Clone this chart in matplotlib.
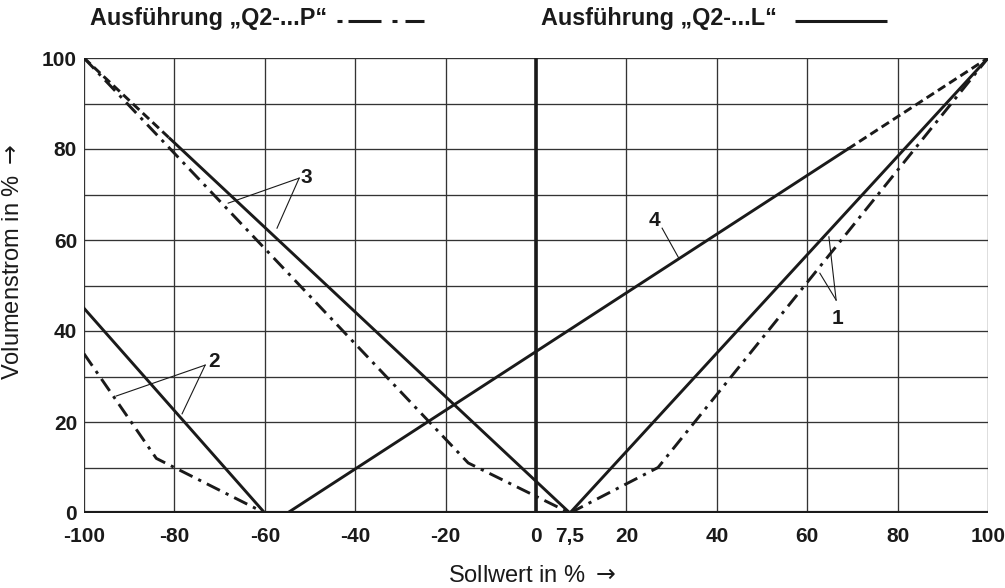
import matplotlib.pyplot as plt
from matplotlib.lines import Line2D

# Kennlinien (Sollwert in %, Volumenstrom in %)
L1_X = [7.5, 100]
L1_Y = [0, 100]
P1_X = [7.5, 27, 100]
P1_Y = [0, 10, 100]
L2_X = [-100, -60]
L2_Y = [45, 0]
P2_X = [-100, -84, -60]
P2_Y = [35, 12, 0]
L3_X = [-100, -81, 7.5]        # erstes Stück gestrichelt
L3_Y = [100, 82.3, 0]
P3_X = [-100, -15, 7.5]
P3_Y = [100, 11, 0]
L4_X = [-55, 69, 100]          # letztes Stück gestrichelt
L4_Y = [0, 80, 100]

XTICKS = [-100, -80, -60, -40, -20, 0, 7.5, 20, 40, 60, 80, 100]
XTICKLABELS = ["-100", "-80", "-60", "-40", "-20", "0", "7,5", "20", "40", "60", "80", "100"]
YTICKS = [0, 20, 40, 60, 80, 100]

# Bezugsziffern: Text, Textanker (links, Grundlinie), Ursprung der Hinweislinien, Zielpunkte
LABELS = [
    ("3", (-52.0, 72.5), (-52.4, 73.6), [(-68.1, 68.1), (-57.3, 62.6)]),
    ("2", (-72.6, 32.0), (-73.2, 32.5), [(-92.9, 25.7), (-78.3, 21.8)]),
    ("4", (24.9, 63.0), (27.9, 62.6), [(31.6, 56.0)]),
    ("1", (65.4, 41.6), (66.4, 46.8), [(64.8, 60.7), (62.8, 52.7)]),
]

SANS = ["Liberation Sans", "DejaVu Sans"]
C = "#1a1a1a"
LW = 2.1
DASHDOT = (5, 2.2, 1.1, 2.2)
DASHED = (3, 1.6)
W, H = 1005, 588

fig = plt.figure(figsize=(W / 100, H / 100), dpi=100)
ax = fig.add_axes([84 / W, 1 - 513 / H, 904 / W, 455 / H])

# Raster
for x in range(-100, 101, 20):
    ax.axvline(x, color="#333333", lw=0.95, zorder=1)
for y in range(0, 101, 10):
    ax.axhline(y, color="#333333", lw=0.95, zorder=1)
ax.axhline(0, color=C, lw=3.0, zorder=3)
ax.axvline(0, color=C, lw=2.6, zorder=3)

# Ausführung L (durchgezogen)
ax.plot(L1_X, L1_Y, color=C, lw=LW, zorder=4)
ax.plot(L2_X, L2_Y, color=C, lw=LW, zorder=4)
ax.plot(L3_X[1:], L3_Y[1:], color=C, lw=LW, zorder=4)
ax.plot(L3_X[:2], L3_Y[:2], color=C, lw=LW, dashes=DASHED, zorder=4)
ax.plot(L4_X[:2], L4_Y[:2], color=C, lw=LW, zorder=4)
ax.plot(L4_X[1:], L4_Y[1:], color=C, lw=LW, dashes=DASHED, zorder=4)

# Ausführung P (strichpunktiert)
for xs, ys in [(P1_X, P1_Y), (P2_X, P2_Y), (P3_X, P3_Y)]:
    ax.plot(xs, ys, color=C, lw=LW, dashes=DASHDOT, zorder=4)

for txt, (tx, ty), (ox, oy), targets in LABELS:
    ax.text(tx, ty, txt, fontsize=15, fontweight="bold", family=SANS,
            ha="left", va="baseline", color=C, zorder=5)
    for px, py in targets:
        ax.plot([ox, px], [oy, py], color=C, lw=0.8, zorder=5)

ax.set_xlim(-100, 100)
ax.set_ylim(0, 100)
for s in ax.spines.values():
    s.set_visible(False)
ax.set_xticks(XTICKS)
ax.set_xticklabels(XTICKLABELS)
ax.set_yticks(YTICKS)
ax.tick_params(axis="x", length=0, pad=10, labelsize=15, colors=C)
ax.tick_params(axis="y", length=0, pad=5, labelsize=15, colors=C)
for lab in ax.get_xticklabels() + ax.get_yticklabels():
    lab.set_fontweight("bold")
    lab.set_family(SANS)

fig.text(532 / W, 1 - 576 / H, "Sollwert in % $\\rightarrow$", fontsize=17, family=SANS,
         ha="center", va="center", color=C)
fig.text(13 / W, 1 - 262 / H, "Volumenstrom in % $\\rightarrow$", fontsize=17, family=SANS,
         rotation=90, ha="center", va="center", color=C)

# Kopfzeile mit Linienmustern
fig.text(90 / W, 1 - 18 / H, "Ausführung „Q2-...P“", fontsize=16.8, fontweight="bold",
         family=SANS, va="center", ha="left", color=C)
fig.text(541 / W, 1 - 18 / H, "Ausführung „Q2-...L“", fontsize=16.8, fontweight="bold",
         family=SANS, va="center", ha="left", color=C)
for x0, x1 in [(337, 342), (348, 381), (392, 397), (405, 424), (795, 887)]:
    fig.add_artist(Line2D([x0 / W, x1 / W], [1 - 21 / H, 1 - 21 / H],
                          transform=fig.transFigure, color=C, lw=2.2,
                          solid_capstyle="butt"))

fig.savefig("out.png", dpi=100)
